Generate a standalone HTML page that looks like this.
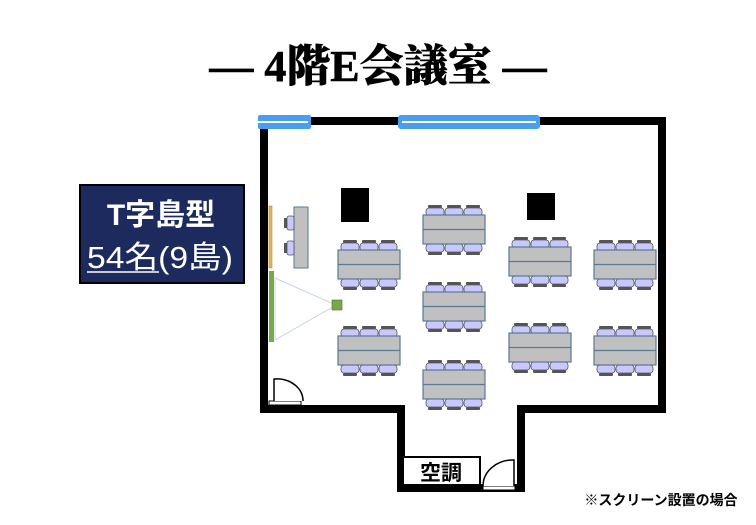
<!DOCTYPE html>
<html><head><meta charset="utf-8"><style>
body{margin:0;background:#fff;}
svg{display:block}
</style></head><body>
<svg width="756" height="525" viewBox="0 0 756 525" xmlns="http://www.w3.org/2000/svg">
<defs>
<g id="ct">
  <rect x="2" y="0" width="14" height="3" rx="1" fill="#555"/>
  <rect x="0" y="3" width="18" height="8" rx="3" fill="#c8c8ff" stroke="#555" stroke-width="0.8"/>
</g>
<g id="cb">
  <rect x="0" y="0" width="18" height="8" rx="3" fill="#c8c8ff" stroke="#555" stroke-width="0.8"/>
  <rect x="2" y="8" width="14" height="3" rx="1" fill="#555"/>
</g>
<g id="tb">
  <use href="#ct" x="3" y="-10"/><use href="#ct" x="22" y="-10"/><use href="#ct" x="41" y="-10"/>
  <use href="#cb" x="3" y="29"/><use href="#cb" x="22" y="29"/><use href="#cb" x="41" y="29"/>
  <rect x="0" y="0" width="62" height="29" fill="#c0c0c0" stroke="#5a7898" stroke-width="1.2"/>
  <line x1="0" y1="14.5" x2="62" y2="14.5" stroke="#5a7898" stroke-width="1.2"/>
</g>
</defs>
<text x="378" y="81" text-anchor="middle" font-family="Liberation Serif, Noto Serif CJK SC, serif" font-weight="900" font-size="44" stroke="#000" stroke-width="0.6">— 4階E会議室 —</text>

<!-- walls -->
<path d="M264,121 H662 V409 H521 V488 H401 V409 H264 Z" fill="none" stroke="#000" stroke-width="8"/>
<!-- windows -->
<rect x="258" y="115" width="53" height="14" rx="2" fill="#4a9ef0"/>
<rect x="258" y="121" width="50" height="2" fill="#fff"/>
<rect x="398" y="115" width="142" height="14" rx="3" fill="#4a9ef0"/>
<rect x="402" y="121" width="134" height="2" fill="#fff"/>

<!-- doors -->
<rect x="269" y="401" width="32" height="4" fill="#fff" stroke="#000" stroke-width="1"/>
<path d="M274,401 V379 A26,22 0 0 1 303,401" fill="#fff" stroke="#000" stroke-width="1.5"/>
<rect x="483" y="486" width="32" height="4" fill="#fff" stroke="#000" stroke-width="1"/>
<path d="M483,486 A30,26 0 0 1 514,460 V486" fill="#fff" stroke="#000" stroke-width="1.5"/>

<!-- aircon -->
<rect x="403" y="457" width="77" height="28" fill="#fff" stroke="#000" stroke-width="2"/>
<text x="441" y="480" text-anchor="middle" font-family="Liberation Sans, Noto Sans CJK JP, sans-serif" font-size="21" font-weight="bold">空調</text>

<!-- pillars -->
<rect x="341" y="188" width="28" height="34" fill="#000"/>
<rect x="527" y="193" width="28" height="27" fill="#000"/>

<!-- screen / podium -->
<rect x="269" y="206" width="3" height="62" fill="#e8b84a" stroke="#a08030" stroke-width="0.5"/>
<rect x="269" y="271" width="5" height="71" fill="#78a84a"/>
<polygon points="275,278 336,305 275,340" fill="none" stroke="#c8d4e4" stroke-width="1"/>
<rect x="332" y="300" width="10" height="10" fill="#78a84a" stroke="#4a7030" stroke-width="0.6"/>
<rect x="294" y="207" width="14" height="61" fill="#c0c0c0" stroke="#5a7898" stroke-width="1"/>
<rect x="287" y="216" width="7" height="14" rx="2" fill="#c8c8ff" stroke="#555" stroke-width="0.8"/>
<rect x="284" y="218" width="3" height="10" fill="#555"/>
<rect x="287" y="241" width="7" height="14" rx="2" fill="#c8c8ff" stroke="#555" stroke-width="0.8"/>
<rect x="284" y="243" width="3" height="10" fill="#555"/>

<!-- tables -->
<use href="#tb" x="338" y="250"/>
<use href="#tb" x="423" y="215"/>
<use href="#tb" x="509" y="247"/>
<use href="#tb" x="594" y="250"/>
<use href="#tb" x="423" y="292"/>
<use href="#tb" x="338" y="336"/>
<use href="#tb" x="509" y="333"/>
<use href="#tb" x="594" y="336"/>
<use href="#tb" x="423" y="370"/>

<!-- label -->
<rect x="80" y="185" width="164" height="98" fill="#1c2a5e" stroke="#000" stroke-width="2"/>
<text x="161" y="225" text-anchor="middle" fill="#fff" font-family="Liberation Sans, Noto Sans CJK JP, sans-serif" font-weight="bold" font-size="30">T字島型</text>
<text x="160" y="268" text-anchor="middle" fill="#fff" font-family="Liberation Sans, Noto Sans CJK JP, sans-serif" font-size="31" textLength="146" lengthAdjust="spacingAndGlyphs">54名(9島)</text>
<line x1="87" y1="272" x2="159" y2="272" stroke="#fff" stroke-width="1.5"/>

<text x="661" y="505" text-anchor="middle" font-family="Liberation Sans, Noto Sans CJK JP, sans-serif" font-weight="bold" font-size="14">※スクリーン設置の場合</text>
</svg>
</body></html>
